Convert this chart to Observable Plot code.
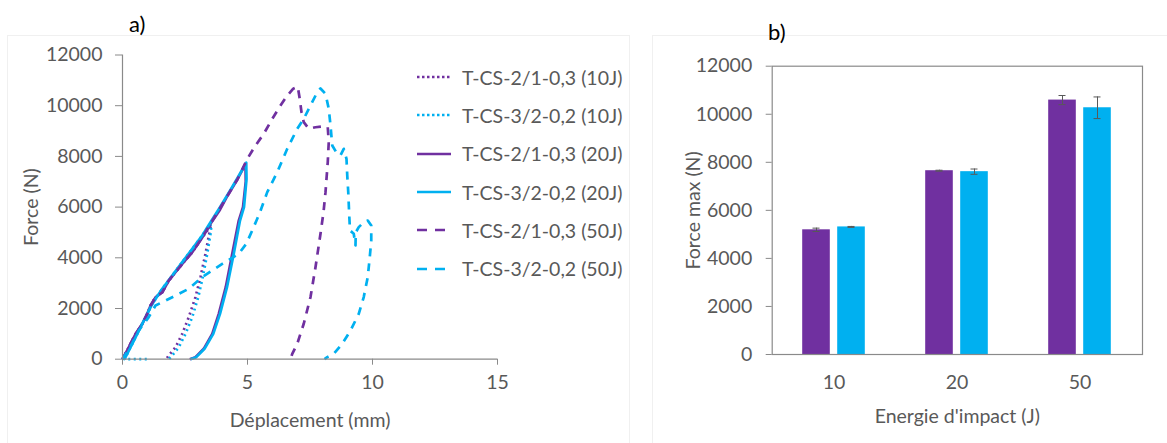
<!DOCTYPE html>
<html>
<head>
<meta charset="utf-8">
<script src="https://cdn.jsdelivr.net/npm/d3@7"></script>
<script src="https://cdn.jsdelivr.net/npm/@observablehq/plot@0.6"></script>
<style>
  html, body { margin: 0; padding: 0; background: #fff; }
  #root { position: relative; width: 1167px; height: 443px; overflow: hidden; background: #fff; font-family: Lato, "Open Sans", sans-serif; }
  .abs { position: absolute; }
  .box { position: absolute; border: 1px solid #f0f0f0; }
  .panel { position: absolute; font-size: 22px; color: #000; line-height: 1; }
  #legend { position: absolute; left: 416px; top: 58px; color: #595959; font-size: 19.5px; }
  #legend .row { height: 38.3px; display: flex; align-items: center; white-space: nowrap; }
  #legend svg { width: 36px; height: 10px; margin-right: 10px; }
</style>
</head>
<body>
<div id="root">
  <div class="box" style="left:7px; top:35px; width:621px; height:420px;"></div>
  <div class="box" style="left:652px; top:35px; width:530px; height:420px;"></div>
  <div id="left" class="abs" style="left:0; top:0;"></div>
  <div id="right" class="abs" style="left:640px; top:0;"></div>
  <div class="panel" style="left:129px; top:13px;">a)</div>
  <div class="panel" style="left:768px; top:21px;">b)</div>
  <div id="legend"></div>
</div>
<script>
// ---------- Panel a) : Force vs displacement curves ----------
const purple = "#7030A0";
const cyan = "#00B0F0";

const seriesNames = [
  "T-CS-2/1-0,3 (10J)",
  "T-CS-3/2-0,2 (10J)",
  "T-CS-2/1-0,3 (20J)",
  "T-CS-3/2-0,2 (20J)",
  "T-CS-2/1-0,3 (50J)",
  "T-CS-3/2-0,2 (50J)"
];
const seriesColors = [purple, cyan, purple, cyan, purple, cyan];
const seriesDash = ["2,3.5", "2,3.5", null, null, "8,7", "8,7"];

// [displacement mm, force N]
const cs21_10J = [[0,0],[0.25,470],[0.52,990],[0.79,1390],[0.99,1790],[1.12,2110],[1.32,2440],[1.59,2640],[1.85,3100],[2.12,3430],[2.39,3760],[2.79,4220],[3.19,4800],[3.45,5150],[3.52,5200],[3.47,4950],[3.32,4160],[3.12,3240],[2.92,2450],[2.65,1660],[2.39,1000],[2.12,470],[1.85,150],[1.75,0]];
const cs32_10J = [[0.97,0],[0.5,0],[0.08,0],[0.39,600],[0.79,1390],[1.19,2180],[1.59,2780],[1.99,3300],[2.39,3830],[2.79,4350],[3.19,4880],[3.45,5250],[3.56,5320],[3.52,4950],[3.39,4160],[3.21,3240],[3.03,2450],[2.79,1660],[2.52,1000],[2.25,470],[1.99,150],[1.85,0]];
const cs21_20J = [[0,0],[0.25,470],[0.52,990],[0.79,1390],[0.99,1790],[1.12,2110],[1.32,2440],[1.59,2640],[1.85,3100],[2.12,3430],[2.39,3760],[2.79,4220],[3.19,4800],[3.52,5340],[3.9,5900],[4.2,6450],[4.6,7100],[4.92,7700],[4.93,7000],[4.82,6000],[4.65,5470],[4.39,4160],[4.13,2840],[3.85,1790],[3.59,1000],[3.25,410],[2.92,80],[2.69,0]];
const cs32_20J = [[0.08,0],[0.39,600],[0.79,1390],[1.19,2180],[1.59,2780],[1.99,3300],[2.39,3830],[2.79,4350],[3.19,4880],[3.52,5400],[3.9,6000],[4.3,6650],[4.6,7150],[4.95,7750],[4.96,7100],[4.86,6000],[4.70,5470],[4.45,4160],[4.18,2840],[3.90,1790],[3.63,1000],[3.28,410],[2.95,80],[2.72,0]];
const cs21_50J = [[0,0],[0.25,470],[0.52,990],[0.79,1390],[0.99,1790],[1.12,2110],[1.32,2440],[1.59,2640],[1.85,3100],[2.12,3430],[2.39,3760],[2.79,4220],[3.19,4800],[3.52,5340],[4.2,6450],[4.6,7100],[4.99,7900],[5.32,8430],[5.65,8890],[5.99,9480],[6.32,10010],[6.59,10400],[6.83,10670],[7.01,10750],[7.09,10270],[7.16,9740],[7.25,9350],[7.45,9090],[7.72,9150],[8.05,9190],[8.21,9150],[8.25,8560],[8.21,7770],[8.12,6590],[8.04,5800],[7.92,4950],[7.72,3630],[7.52,2450],[7.25,1400],[6.99,610],[6.79,210],[6.72,0]];
const cs32_50J = [[0,0],[0.35,560],[0.65,1130],[1.05,1660],[1.32,2120],[1.72,2310],[2.12,2510],[2.65,2780],[3.19,3240],[3.59,3500],[3.99,3760],[4.32,3960],[4.65,4160],[4.95,4550],[5.2,5100],[5.5,5800],[5.79,6590],[6.19,7380],[6.59,8300],[6.99,9090],[7.25,9480],[7.52,10010],[7.79,10530],[7.92,10680],[8.12,10470],[8.25,9880],[8.32,9220],[8.39,8430],[8.59,8100],[8.72,8040],[8.85,8300],[8.96,7900],[8.99,7250],[9.03,6590],[9.07,5670],[9.1,5080],[9.25,4950],[9.32,4490],[9.33,5000],[9.45,5210],[9.65,5400],[9.81,5470],[9.95,5270],[9.95,4680],[9.89,4020],[9.81,3240],[9.65,2450],[9.45,1790],[9.12,1130],[8.79,610],[8.45,210],[8.19,80],[8.08,0]];

const seriesData = [cs21_10J, cs32_10J, cs21_20J, cs32_20J, cs21_50J, cs32_50J];

const xTicksA = [0, 5, 10, 15];
const yTicks = [0, 2000, 4000, 6000, 8000, 10000, 12000];

const axisGray = "#8a8a8a";
const textGray = "#595959";
const fontCss = "Lato, 'Open Sans', sans-serif";
const fmt = d => String(d);

const lineMarks = seriesData.map((pts, i) =>
  Plot.line(pts, {
    x: d => d[0], y: d => d[1],
    stroke: seriesColors[i], strokeWidth: 2.7,
    strokeDasharray: seriesDash[i] || undefined,
    strokeLinejoin: "round", strokeLinecap: "butt", curve: "linear"
  })
);

const plotA = Plot.plot({
  width: 640, height: 443,
  marginLeft: 122, marginRight: 143, marginTop: 54.5, marginBottom: 84.3,
  style: { fontFamily: fontCss, fontSize: "19.5px", color: textGray, background: "transparent", overflow: "visible" },
  x: { domain: [0, 15] },
  y: { domain: [0, 12000] },
  marks: [
    Plot.axisX({ ticks: xTicksA, tickFormat: fmt, tickSize: 6, tickPadding: 10, stroke: axisGray, label: "Déplacement (mm)", labelAnchor: "center", labelOffset: 68, labelArrow: "none" }),
    Plot.axisY({ ticks: yTicks, tickFormat: fmt, tickSize: 7, tickPadding: 13, stroke: axisGray, label: "Force (N)", labelAnchor: "center", labelOffset: 98, labelArrow: "none" }),
    ...lineMarks,
    Plot.ruleY([0], { stroke: axisGray, strokeWidth: 1.2 }),
    Plot.ruleX([0], { stroke: axisGray, strokeWidth: 1.2 })
  ]
});
document.getElementById("left").appendChild(plotA);

// Legend (HTML)
const legend = document.getElementById("legend");
seriesNames.forEach((name, i) => {
  const row = document.createElement("div");
  row.className = "row";
  const dash = seriesDash[i] ? `stroke-dasharray="${i >= 4 ? "10,8" : "2.5,2.5"}"` : "";
  row.innerHTML = `<svg viewBox="0 0 36 10"><line x1="1" y1="5" x2="35" y2="5" stroke="${seriesColors[i]}" stroke-width="2.7" ${dash}/></svg><span>${name}</span>`;
  legend.appendChild(row);
});

// ---------- Panel b) : Max force bar chart ----------
const energies = ["10", "20", "50"];
const cs21Max = [5190, 7650, 10590];
const cs21Err = [70, 20, 190];
const cs32Max = [5310, 7610, 10270];
const cs32Err = [20, 110, 450];

const rows21 = energies.map((e, i) => ({ energy: e, v: cs21Max[i], lo: cs21Max[i] - cs21Err[i], hi: cs21Max[i] + cs21Err[i] }));
const rows32 = energies.map((e, i) => ({ energy: e, v: cs32Max[i], lo: cs32Max[i] - cs32Err[i], hi: cs32Max[i] + cs32Err[i] }));

const barInset = 47.7;
const capInset = 58;
const off = 17.5;

const plotB = Plot.plot({
  width: 527, height: 443,
  marginLeft: 131.7, marginRight: 25, marginTop: 65.7, marginBottom: 89,
  style: { fontFamily: fontCss, fontSize: "19.5px", color: textGray, background: "transparent", overflow: "visible" },
  x: { domain: energies, padding: 0 },
  y: { domain: [0, 12000] },
  marks: [
    Plot.barY(rows21, { x: "energy", y: "v", fill: purple, dx: -off, insetLeft: barInset, insetRight: barInset }),
    Plot.barY(rows32, { x: "energy", y: "v", fill: cyan, dx: off, insetLeft: barInset, insetRight: barInset }),
    Plot.ruleX(rows21, { x: "energy", y1: "lo", y2: "hi", dx: -off, stroke: textGray, strokeWidth: 1 }),
    Plot.ruleX(rows32, { x: "energy", y1: "lo", y2: "hi", dx: off, stroke: textGray, strokeWidth: 1 }),
    Plot.tickY(rows21, { x: "energy", y: "hi", dx: -off, insetLeft: capInset, insetRight: capInset, stroke: textGray, strokeWidth: 1 }),
    Plot.tickY(rows21, { x: "energy", y: "lo", dx: -off, insetLeft: capInset, insetRight: capInset, stroke: textGray, strokeWidth: 1 }),
    Plot.tickY(rows32, { x: "energy", y: "hi", dx: off, insetLeft: capInset, insetRight: capInset, stroke: textGray, strokeWidth: 1 }),
    Plot.tickY(rows32, { x: "energy", y: "lo", dx: off, insetLeft: capInset, insetRight: capInset, stroke: textGray, strokeWidth: 1 }),
    Plot.axisX({ tickSize: 0, tickPadding: 21, label: "Energie d'impact (J)", labelAnchor: "center", labelOffset: 68, labelArrow: "none" }),
    Plot.axisY({ ticks: yTicks, tickFormat: fmt, tickSize: 6, tickPadding: 14, stroke: axisGray, label: "Force max (N)", labelAnchor: "center", labelOffset: 86, labelArrow: "none" }),
    Plot.frame({ stroke: axisGray, strokeWidth: 1.2 })
  ]
});
document.getElementById("right").appendChild(plotB);
</script>
</body>
</html>
